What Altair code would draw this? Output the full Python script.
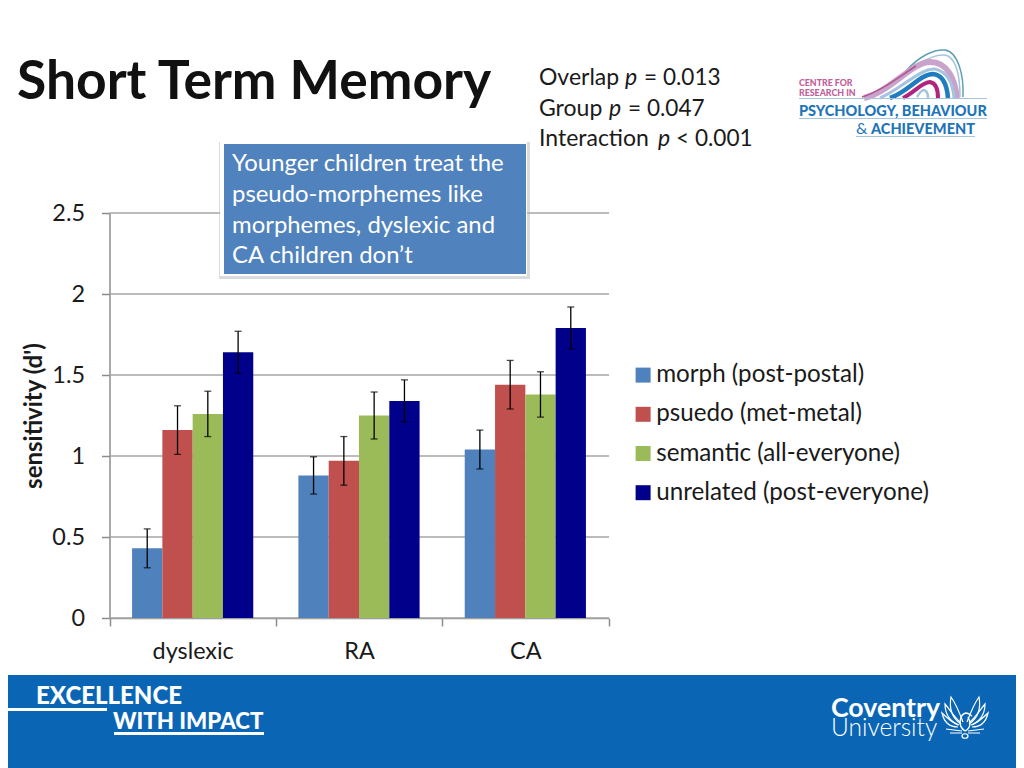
import altair as alt
import pandas as pd

categories = ["dyslexic", "RA", "CA"]
series = ["morph (post-postal)", "psuedo (met-metal)", "semantic (all-everyone)", "unrelated (post-everyone)"]
colors = ["#4F81BD", "#C0504D", "#9BBB59", "#00008B"]
values = {
    "dyslexic": [0.43, 1.16, 1.26, 1.64],
    "RA": [0.88, 0.97, 1.25, 1.34],
    "CA": [1.04, 1.44, 1.38, 1.79],
}
errors = {
    "dyslexic": [0.12, 0.15, 0.14, 0.13],
    "RA": [0.115, 0.15, 0.145, 0.13],
    "CA": [0.12, 0.15, 0.14, 0.13],
}
y_ticks = [0, 0.5, 1, 1.5, 2, 2.5]

FONT = "Lato"
W, H = 1008, 760
one = pd.DataFrame({"a": [0]})


def X(p):
    return p - 8


def Y(p):
    return p - 8


rows = []
for c in categories:
    for s, v, e in zip(series, values[c], errors[c]):
        rows.append({"cat": c, "series": s, "v": v, "lo": v - e, "hi": v + e})
df = pd.DataFrame(rows)

x_scale = alt.Scale(domain=categories, range=[X(109.5), X(608.5)], paddingInner=0, paddingOuter=0)
off_scale = alt.Scale(domain=series, paddingInner=0, paddingOuter=0.745)
y_scale = alt.Scale(domain=[0, 2.5], range=[Y(618), Y(213)], nice=False)
x_off = alt.XOffset("series:N", scale=off_scale, sort=series)

x_axis = alt.Axis(
    offset=-(H - Y(618)), labelAngle=0, labelFont=FONT, labelFontSize=23.4, labelColor="#1a1a1a",
    domainColor="#8c8c8c", tickColor="#8c8c8c", tickSize=8, tickBand="extent", labelPadding=14,
    domainWidth=1.5, tickWidth=1.5,
)
y_axis = alt.Axis(
    offset=-X(109.5), values=y_ticks, grid=False, format="~g", labelFont=FONT, labelFontSize=23.4,
    labelColor="#1a1a1a", domainColor="#8c8c8c", tickColor="#8c8c8c", tickSize=8, labelPadding=17,
    domainWidth=1.5, tickWidth=1.5, titleFont=FONT, titleFontSize=24, titleFontWeight="bold",
    titleColor="#1a1a1a", titlePadding=5,
)
Y_TITLE = "sensitivity (d')"


def text(s, x, y, size, color="#1a1a1a", weight="normal", style="normal", font=FONT, align="left", angle=0):
    return alt.Chart(one).mark_text(
        text=s, font=font, fontSize=size, fontWeight=weight, fontStyle=style,
        color=color, align=align, baseline="alphabetic", angle=angle,
    ).encode(x=alt.value(X(x)), y=alt.value(Y(y)))


def rect(x0, y0, x1, y1, color, opacity=1.0):
    return alt.Chart(one).mark_rect(color=color, opacity=opacity).encode(
        x=alt.value(X(x0)), x2=alt.value(X(x1)), y=alt.value(Y(y0)), y2=alt.value(Y(y1))
    )


def stroke_path(path, color, width):
    return alt.Chart(one).mark_point(
        shape=path, size=4, filled=False, stroke=color, strokeWidth=width, opacity=1
    ).encode(x=alt.value(-8), y=alt.value(-8))


grid = alt.Chart(pd.DataFrame({"t": y_ticks})).mark_rule(color="#A6A6A6", strokeWidth=1.5).encode(
    y=alt.Y("t:Q", scale=y_scale, axis=y_axis, title=Y_TITLE),
    x=alt.value(X(110)),
    x2=alt.value(X(609)),
)

bars = alt.Chart(df).mark_bar(stroke=None).encode(
    x=alt.X("cat:N", scale=x_scale, sort=categories, title=None, axis=x_axis),
    xOffset=x_off,
    y=alt.Y("v:Q", scale=y_scale, title=Y_TITLE, axis=y_axis),
    color=alt.Color(
        "series:N", sort=series, scale=alt.Scale(domain=series, range=colors),
        legend=alt.Legend(
            title=None, orient="none", legendX=X(631), legendY=Y(363), symbolType="square", symbolSize=225,
            symbolStrokeWidth=0, labelFont=FONT, labelFontSize=24.2, labelColor="#1a1a1a", labelLimit=400,
            rowPadding=14.2, labelOffset=1, symbolOpacity=1,
        ),
    ),
)

err_rule = alt.Chart(df).mark_rule(color="#000000", strokeWidth=1.3).encode(
    x=alt.X("cat:N", scale=x_scale, sort=categories, title=None, axis=x_axis), xOffset=x_off,
    y=alt.Y("lo:Q", scale=y_scale, title=Y_TITLE, axis=y_axis), y2="hi:Q",
)
cap_lo = alt.Chart(df).mark_tick(color="#000000", thickness=1.3, size=7, orient="horizontal").encode(
    x=alt.X("cat:N", scale=x_scale, sort=categories, title=None, axis=x_axis), xOffset=x_off,
    y=alt.Y("lo:Q", scale=y_scale, title=Y_TITLE, axis=y_axis),
)
cap_hi = alt.Chart(df).mark_tick(color="#000000", thickness=1.3, size=7, orient="horizontal").encode(
    x=alt.X("cat:N", scale=x_scale, sort=categories, title=None, axis=x_axis), xOffset=x_off,
    y=alt.Y("hi:Q", scale=y_scale, title=Y_TITLE, axis=y_axis),
)

decor = [
    rect(0, 675, 1024, 768, "#0A66B5"),
    rect(0, 708, 107, 711, "#ffffff"),
    rect(114, 732, 264, 735, "#ffffff"),
    text("EXCELLENCE", 36, 704, 24, "#ffffff", 900),
    text("WITH IMPACT", 113, 729, 22.3, "#ffffff", 900),
    text("Coventry", 831, 717, 26.7, "#ffffff", "bold"),
    text("University", 831, 736, 24.5, "#ffffff", 300),
    # phoenix mark: wings, neck and tail
    stroke_path("M961 724 C952 718 949 708 951 697 C956 704 960 714 963 722", "#ffffff", 1.2),
    stroke_path("M959 725 C950 722 945 714 945 704 C950 710 955 718 960 722", "#ffffff", 1.2),
    stroke_path("M958 727 C950 727 944 722 942 713 C947 718 952 722 958 725", "#ffffff", 1.2),
    stroke_path("M969 724 C978 718 981 708 979 697 C974 704 970 714 967 722", "#ffffff", 1.2),
    stroke_path("M971 725 C980 722 985 714 985 704 C980 710 975 718 970 722", "#ffffff", 1.2),
    stroke_path("M972 727 C980 727 986 722 988 713 C983 718 978 722 972 725", "#ffffff", 1.2),
    stroke_path("M965 731 C957 726 960 714 966 713 C969 713 970 715 972 716", "#ffffff", 1.4),
    stroke_path("M965 731 C971 728 971 722 968 717", "#ffffff", 1.4),
    stroke_path("M946 729 L962 731 M984 729 L968 731 M950 733 L962 733 M980 733 L968 733", "#ffffff", 1.2),
    stroke_path("M962 736 C962 733 968 733 968 736 C968 739 962 739 962 736", "#ffffff", 1.2),
]

logo = [
    stroke_path("M915 68 C925 58 940 53 948 56 C958 62 960 80 960 97", "#A6C4DF", 1.5),
    stroke_path("M905 72 C920 55 935 49 945 50 C958 52 964 75 963 97", "#5FA0B5", 1.5),
    stroke_path("M864 98 C890 92 912 62 930 62 C948 62 955 80 957 98", "#C9A3CB", 6),
    stroke_path("M880 98 C900 90 920 68 935 69 C948 72 953 85 954 98", "#A6C4DF", 3),
    stroke_path("M890 98 C908 92 920 74 933 74 C943 75 947 85 948 98", "#1F7CBE", 4.5),
    stroke_path("M903 98 C915 92 922 82 930 82 C936 83 938 90 938 98", "#B0247E", 4),
    stroke_path("M917 97 C920 92 922 90 924 90 C927 91 928 94 928 98", "#A6C4DF", 2.5),
    stroke_path("M862 97 C880 92 900 76 916 66", "#B0558F", 1.5),
    rect(799, 98, 987, 99, "#A6C4DF"),
    rect(799, 118, 987, 119, "#A6C4DF"),
    rect(856, 136, 975, 137, "#A6C4DF"),
    text("CENTRE FOR", 799, 86, 8.8, "#C0609A", 900),
    text("RESEARCH IN", 799, 96, 8.8, "#C0609A", 900),
    text("PSYCHOLOGY, BEHAVIOUR", 799, 116, 14.5, "#1F75B8", 900),
    text("&", 856, 134, 16, "#1F75B8", "normal"),
    text("ACHIEVEMENT", 871, 134, 14.5, "#1F75B8", 900),
]

head = [
    text("Short Term Memory", 17, 99, 53.4, "#111111", "bold"),
    text("Overlap", 539, 85, 23), text("p", 625, 85, 23, style="italic"), text("= 0.013", 644, 85, 22.6),
    text("Group", 539, 116, 23), text("p", 609, 116, 23, style="italic"), text("= 0.047", 628, 116, 22.6),
    text("Interaction", 539, 146, 23), text("p", 658, 146, 23, style="italic"), text("< 0.001", 676, 146, 22.6),
]

box = [
    rect(219, 142, 530, 279, "#B0B0B0", 0.45),
    rect(220, 141, 527, 276, "#ffffff"),
    rect(224, 144, 526, 274, "#4A7EBB", 0.97),
    text("Younger children treat the", 232, 171, 23.9, "#ffffff"),
    text("pseudo-morphemes like", 232, 202, 23.9, "#ffffff"),
    text("morphemes, dyslexic and", 232, 233, 23.9, "#ffffff"),
    text("CA children don\u2019t", 232, 263, 23.9, "#ffffff"),
]

chart = alt.layer(
    grid, bars, err_rule, cap_lo, cap_hi, *box, *decor, *logo, *head
).properties(
    width=W, height=H, background="#ffffff", padding=0,
    autosize=alt.AutoSizeParams(type="none"),
).configure_view(stroke=None)

chart.save("out.html", embed_options={"renderer": "svg", "actions": False})
